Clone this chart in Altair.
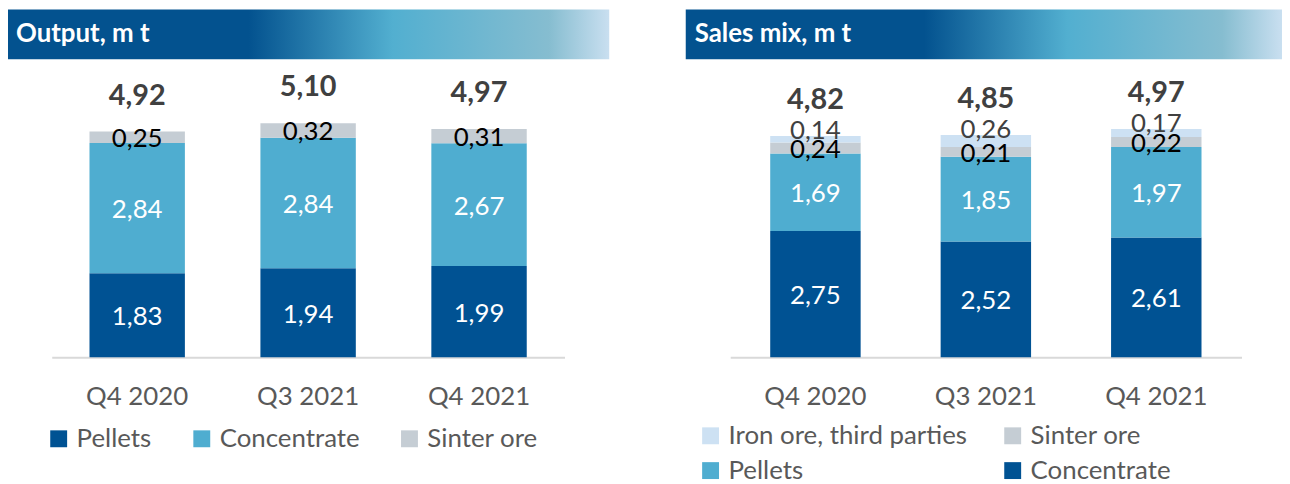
import altair as alt
import pandas as pd

quarters = ["Q4 2020", "Q3 2021", "Q4 2021"]

# Output panel (bottom -> top)
out_series = ["Pellets", "Concentrate", "Sinter ore"]
out_pellets = [1.83, 1.94, 1.99]
out_conc = [2.84, 2.84, 2.67]
out_sinter = [0.25, 0.32, 0.31]
out_totals = ["4,92", "5,10", "4,97"]
out_colors = ["#005293", "#4fadd0", "#c5cdd4"]

# Sales mix panel (bottom -> top)
sales_series = ["Concentrate", "Pellets", "Sinter ore", "Iron ore, third parties"]
sales_conc = [2.75, 2.52, 2.61]
sales_pellets = [1.69, 1.85, 1.97]
sales_sinter = [0.24, 0.21, 0.22]
sales_iron = [0.14, 0.26, 0.17]
sales_totals = ["4,82", "4,85", "4,97"]
sales_colors = ["#005293", "#4fadd0", "#c5cdd4", "#cde1f3"]
# legend entries are laid out column by column
sales_legend_order = ["Iron ore, third parties", "Pellets", "Sinter ore", "Concentrate"]

FONT = "Lato"
GRAY = "#595959"


def fmt(v):
    return f"{v:.2f}".replace(".", ",")


def stack(series, values):
    rows = []
    for qi, q in enumerate(quarters):
        base = 0.0
        for s, vals in zip(series, values):
            v = vals[qi]
            rows.append({"quarter": q, "series": s, "start": base, "end": base + v,
                         "mid": base + v / 2, "label": fmt(v)})
            base += v
    return pd.DataFrame(rows)


def totals_df(series_values, totals):
    tops = [sum(vals[i] for vals in series_values) for i in range(len(quarters))]
    return pd.DataFrame({"quarter": quarters, "top": tops, "label": totals})


gradient = alt.Gradient(
    gradient="linear",
    stops=[
        alt.GradientStop(color="#03528f", offset=0),
        alt.GradientStop(color="#03528f", offset=0.40),
        alt.GradientStop(color="#52afd0", offset=0.64),
        alt.GradientStop(color="#86bdd0", offset=0.90),
        alt.GradientStop(color="#c9dff0", offset=1),
    ],
    x1=0, x2=1, y1=0, y2=0,
)

PX = 46.2
BASE = 350
yscale = alt.Scale(domain=[0, 7], range=[BASE, BASE - 7 * PX])


def panel(title, width, title_x0, title_tx, series, values, colors, legend_order,
          totals, xrange, pin, legend_kw):
    df = stack(series, values)
    tdf = totals_df(values, totals)
    xs = alt.X("quarter:N", sort=quarters,
               scale=alt.Scale(domain=quarters, range=xrange, paddingInner=pin,
                               paddingOuter=pin / 2),
               axis=alt.Axis(title=None, labelAngle=0, ticks=False, offset=-118,
                             domainColor="#d9d9d9", domainWidth=2, grid=False,
                             labelFont=FONT, labelFontSize=26, labelColor=GRAY,
                             labelPadding=26))
    tdata = pd.DataFrame({"t": [title]})
    bar_rect = alt.Chart(tdata).mark_rect(color=gradient).encode(
        x=alt.value(title_x0), x2=alt.value(width), y=alt.value(0), y2=alt.value(50))
    bar_text = alt.Chart(tdata).mark_text(
        align="left", baseline="middle", font=FONT, fontSize=26, fontWeight="bold",
        color="white").encode(x=alt.value(title_tx), y=alt.value(25), text="t:N")

    bars = alt.Chart(df).mark_bar().encode(
        x=xs,
        y=alt.Y("start:Q", scale=yscale, axis=None),
        y2="end:Q",
        color=alt.Color("series:N",
                        scale=alt.Scale(domain=series, range=colors),
                        legend=alt.Legend(title=None, orient="none",
                                          symbolType="square", symbolSize=289,
                                          symbolStrokeWidth=0, labelFont=FONT,
                                          labelFontSize=26, labelColor=GRAY,
                                          labelLimit=400, labelOffset=5, padding=0,
                                          values=legend_order, **legend_kw)),
    )
    white = alt.Chart(df).transform_filter(
        alt.FieldOneOfPredicate(field="series", oneOf=["Pellets", "Concentrate"])
    ).mark_text(font=FONT, fontSize=26, color="white", baseline="middle", dy=2).encode(
        x=xs, y=alt.Y("mid:Q", scale=yscale, axis=None), text="label:N")
    sinter = alt.Chart(df).transform_filter(
        alt.FieldEqualPredicate(field="series", equal="Sinter ore")
    ).mark_text(font=FONT, fontSize=26, color="black", baseline="middle", dy=2).encode(
        x=xs, y=alt.Y("mid:Q", scale=yscale, axis=None), text="label:N")
    layers = [bar_rect, bar_text, bars, white, sinter]
    if "Iron ore, third parties" in series:
        iron = alt.Chart(df).transform_filter(
            alt.FieldEqualPredicate(field="series", equal="Iron ore, third parties")
        ).mark_text(font=FONT, fontSize=26, color="#404040", baseline="middle", dy=-5).encode(
            x=xs, y=alt.Y("end:Q", scale=yscale, axis=None), text="label:N")
        layers.append(iron)
    tot = alt.Chart(tdf).mark_text(font=FONT, fontSize=29, fontWeight="bold",
                                   color="#404040", baseline="middle", dy=-36).encode(
        x=xs, y=alt.Y("top:Q", scale=yscale, axis=None), text="label:N")
    layers.append(tot)
    return alt.layer(*layers).properties(width=width, height=468)


left = panel("Output, m t", 605, 0, 8, out_series,
             [out_pellets, out_conc, out_sinter], out_colors, out_series,
             out_totals, [44, 560], 1 - 96 / 172,
             dict(columns=3, columnPadding=37, legendX=38, legendY=419))
right = panel("Sales mix, m t", 677, 77, 86, sales_series,
              [sales_conc, sales_pellets, sales_sinter, sales_iron], sales_colors,
              sales_legend_order, sales_totals, [121.75, 636.25], 1 - 91 / 171.5,
              dict(columns=2, columnPadding=32, rowPadding=9, legendX=89, legendY=416))

chart = alt.hconcat(left, right, spacing=0).resolve_scale(
    color="independent", x="independent", y="independent"
).properties(padding=0).configure(
    font=FONT, view=alt.ViewConfig(stroke=None)
)

chart.save("out.html", embed_options={"renderer": "svg", "actions": False})
